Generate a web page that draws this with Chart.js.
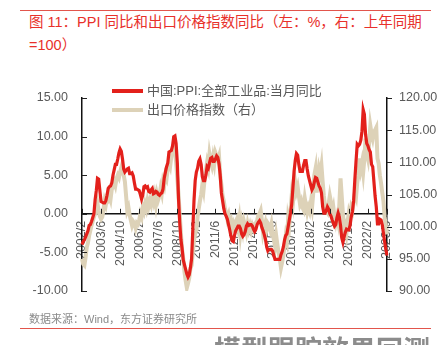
<!DOCTYPE html>
<html>
<head>
<meta charset="utf-8">
<title>PPI 同比和出口价格指数同比</title>
<script src="https://cdn.jsdelivr.net/npm/chart.js@4.4.1/dist/chart.umd.min.js"></script>
<style>
  html, body { margin: 0; padding: 0; background: #fff; }
  body {
    width: 439px; height: 345px; position: relative; overflow: hidden;
    font-family: "Liberation Sans", "Noto Sans CJK SC", sans-serif;
  }
  #chart { position: absolute; left: 0; top: 0; }
  .rule { position: absolute; left: 20px; width: 411px; height: 1px; background: #e2554c; }
  .title { position: absolute; left: 29px; top: 11px; color: #e8302a; font-size: 14.5px; line-height: 23px; white-space: nowrap; }
  .source { position: absolute; left: 29px; top: 312px; color: #8a8a8a; font-size: 11px; line-height: 14px; white-space: nowrap; }
  .next { position: absolute; left: 214px; top: 334px; color: #8c8c8c; font-size: 27px; font-weight: bold; line-height: 30px; white-space: nowrap; font-family: "Noto Sans CJK SC", sans-serif; }
</style>
</head>
<body>
<div class="rule" style="top:10px"></div>
<div class="title">图 11：PPI 同比和出口价格指数同比（左：%，右：上年同期<br>=100）</div>
<canvas id="chart" width="439" height="345"></canvas>
<div class="source">数据来源：Wind，东方证券研究所</div>
<div class="rule" style="top:328px"></div>
<div class="next">模型跟踪效果回测</div>

<script>
// monthly, 2002/2 .. 2023/6
const startYear = 2002;
const startMonth = 2;

// 中国:PPI:全部工业品:当月同比 (%)
const ppi = [
  -4.0, -3.6, -3.4, -3.0, -2.6, -2.2, -1.5, -1.4, -1.0, -0.5, 0.0,        // 2002
  1.8, 3.0, 4.6, 4.5, 3.0, 1.6, 1.5, 1.4, 1.4, 1.7, 2.4, 3.3,             // 2003
  3.5, 3.6, 4.0, 5.0, 5.7, 6.4, 6.4, 7.1, 7.9, 8.4, 8.1, 7.1,             // 2004
  5.8, 5.4, 5.6, 5.8, 5.9, 5.2, 5.2, 5.3, 4.9, 4.0, 3.2, 3.2,             // 2005
  3.1, 3.0, 2.5, 1.9, 2.4, 3.5, 3.6, 3.4, 3.5, 2.9, 2.8, 3.1,             // 2006
  3.3, 2.6, 2.7, 2.9, 2.8, 2.5, 2.4, 2.6, 2.7, 3.2, 4.6, 5.4,             // 2007
  6.1, 6.6, 8.0, 8.1, 8.2, 8.8, 10.0, 10.1, 9.1, 6.6, 2.0, -1.1,          // 2008
  -3.3, -4.5, -6.0, -6.6, -7.2, -7.8, -8.2, -7.9, -7.0, -5.8, -2.1, 1.7,  // 2009
  4.3, 5.4, 5.9, 6.8, 7.1, 6.4, 4.8, 4.3, 4.3, 5.0, 6.1, 5.9,             // 2010
  6.6, 7.2, 7.3, 6.8, 6.8, 7.1, 7.5, 7.3, 6.5, 5.0, 2.7, 1.7,             // 2011
  0.7, 0.0, -0.3, -0.7, -1.4, -2.1, -2.9, -3.5, -3.6, -2.8, -2.2, -1.9,   // 2012
  -1.6, -1.6, -1.9, -2.6, -2.9, -2.7, -2.3, -1.6, -1.3, -1.5, -1.4, -1.4, // 2013
  -1.6, -2.0, -2.3, -2.0, -1.4, -1.1, -0.9, -1.2, -1.8, -2.2, -2.7, -3.3, // 2014
  -4.3, -4.8, -4.6, -4.6, -4.6, -4.8, -5.4, -5.9, -5.9, -5.9, -5.9, -5.9, // 2015
  -5.3, -4.9, -4.3, -3.4, -2.8, -2.6, -1.7, -0.8, 0.1, 1.2, 3.3, 5.5,     // 2016
  6.9, 7.8, 7.6, 6.4, 5.5, 5.5, 5.5, 6.3, 6.9, 6.9, 5.8, 4.9,             // 2017
  4.3, 3.7, 3.1, 3.4, 4.1, 4.7, 4.6, 4.1, 3.6, 3.3, 2.7, 0.9,             // 2018
  0.1, 0.1, 0.4, 0.9, 0.6, 0.0, -0.3, -0.8, -1.2, -1.6, -1.4, -0.5,       // 2019
  0.1, -0.4, -1.5, -3.1, -3.7, -3.0, -2.4, -2.0, -2.1, -2.1, -1.5, -0.4,  // 2020
  0.3, 1.7, 4.4, 6.8, 9.0, 8.8, 9.0, 9.5, 10.7, 13.5, 12.9, 10.3,         // 2021
  9.1, 8.8, 8.3, 8.0, 6.4, 6.1, 4.2, 2.3, 0.9, -1.3, -1.3, -0.7,          // 2022
  -0.8, -1.4, -2.5, -3.6, -4.6, -5.4                                      // 2023
];

// 出口价格指数 (上年同期=100)
const exportIndex = [
  95.0, 94.2, 94.0, 95.2, 96.8, 97.5, 98.6, 99.4, 100.2, 100.8, 101.5,           // 2002
  102.0, 102.8, 103.6, 102.5, 101.6, 101.2, 101.5, 102.6, 104.0, 103.4, 104.5, 104.2, // 2003
  105.0, 104.3, 105.8, 106.2, 107.0, 106.4, 107.5, 108.0, 107.6, 108.5, 109.2, 108.4, // 2004
  108.0, 107.0, 104.8, 102.5, 103.0, 101.8, 101.0, 100.2, 100.8, 100.5, 99.8, 100.6,  // 2005
  100.4, 101.0, 102.0, 101.5, 103.0, 102.4, 103.5, 102.8, 104.0, 103.2, 104.0, 103.4, // 2006
  104.5, 103.8, 104.8, 103.5, 105.0, 104.2, 104.8, 106.0, 105.2, 107.0, 106.4, 108.0, // 2007
  107.5, 109.0, 110.0, 109.4, 111.0, 111.8, 112.5, 111.6, 110.0, 107.5, 105.0, 102.0, // 2008
  99.0, 96.5, 95.0, 93.0, 91.6, 90.5, 91.2, 92.0, 93.5, 94.0, 96.0, 97.8,             // 2009
  99.0, 99.4, 101.5, 102.8, 104.0, 105.0, 106.5, 105.6, 107.5, 108.8, 110.0, 109.2,   // 2010
  111.3, 110.2, 109.5, 110.8, 109.8, 111.5, 111.0, 110.4, 111.0, 108.0, 106.5, 104.8, // 2011
  104.0, 102.8, 102.2, 101.2, 101.8, 100.6, 101.0, 99.7, 100.4, 99.7, 100.8, 101.2,   // 2012
  100.0, 101.2, 99.0, 100.5, 99.4, 100.8, 100.1, 99.2, 100.4, 99.5, 100.2, 99.4,      // 2013
  100.2, 99.7, 100.4, 100.6, 101.0, 101.8, 102.0, 102.5, 101.0, 99.0, 99.8, 100.6,    // 2014
  99.6, 100.5, 100.2, 99.5, 100.4, 99.0, 98.0, 97.0, 98.6, 97.2, 96.0, 95.0,          // 2015
  93.6, 94.5, 95.5, 97.0, 98.6, 97.8, 101.2, 100.2, 102.5, 104.8, 103.6, 105.5,       // 2016
  106.8, 105.5, 106.2, 104.8, 103.5, 104.0, 103.0, 102.6, 104.4, 103.2, 102.2, 103.0, // 2017
  102.4, 103.7, 102.8, 105.0, 108.0, 109.0, 105.3, 107.0, 109.0, 108.2, 109.5, 107.0, // 2018
  104.8, 103.2, 102.5, 102.2, 103.5, 104.8, 103.8, 102.2, 103.0, 101.5, 100.6, 101.5, // 2019
  100.6, 103.5, 107.5, 104.8, 102.0, 99.7, 100.2, 99.0, 100.8, 102.2, 101.5, 103.0,   // 2020
  102.5, 103.8, 105.2, 104.6, 106.8, 108.0, 110.6, 109.0, 110.0, 108.4, 110.5, 113.7, // 2021
  111.5, 110.6, 113.0, 115.7, 114.5, 113.7, 114.8, 115.0, 115.4, 110.6, 109.8, 108.0, // 2022
  106.8, 105.3, 104.0, 101.5, 100.2, 98.8                                            // 2023
];

const seriesNames = ['中国:PPI:全部工业品:当月同比', '出口价格指数（右）'];
const tickEvery = 16; // 2002/2, 2003/6, 2004/10 ...

const months = [];
for (let y = startYear, m = startMonth; months.length < ppi.length; m++) {
  if (m > 12) { m = 1; y++; }
  months.push(y + '/' + m);
}

const RED = '#e3201b';
const BEIGE = '#ddd2b8';
const FONT = '"Liberation Sans", "Noto Sans CJK SC", sans-serif';

Chart.defaults.font.family = FONT;
Chart.defaults.font.size = 12.5;
Chart.defaults.color = '#595959';

// small tick marks: left/right axes point right, x axis points up
const axisTicks = {
  id: 'axisTicks',
  afterDraw(chart) {
    const { ctx, chartArea, scales } = chart;
    ctx.save();
    ctx.strokeStyle = '#222';
    ctx.lineWidth = 1;
    ctx.beginPath();
    scales.y.ticks.forEach(t => {
      const py = Math.round(scales.y.getPixelForValue(t.value)) + 0.5;
      ctx.moveTo(chartArea.left, py); ctx.lineTo(chartArea.left + 5, py);
    });
    scales.y1.ticks.forEach(t => {
      const py = Math.round(scales.y1.getPixelForValue(t.value)) + 0.5;
      ctx.moveTo(chartArea.right, py); ctx.lineTo(chartArea.right + 5, py);
    });
    const y0 = scales.y.getPixelForValue(0);
    months.forEach((_, i) => {
      if (i % tickEvery) return;
      const px = Math.round(scales.x.getPixelForValue(i)) + 0.5;
      ctx.moveTo(px, y0); ctx.lineTo(px, y0 - 5);
    });
    ctx.stroke();
    ctx.restore();
  }
};

// two-row legend above the plot
const stackedLegend = {
  id: 'stackedLegend',
  afterDraw(chart) {
    const { ctx, chartArea } = chart;
    ctx.save();
    ctx.font = '13px ' + FONT;
    ctx.textBaseline = 'middle';
    chart.data.datasets.forEach((ds, i) => {
      const x = chartArea.left + 30;
      const y = chartArea.top - 7 + i * 19;
      ctx.strokeStyle = ds.borderColor;
      ctx.lineWidth = 4;
      ctx.beginPath();
      ctx.moveTo(x, y); ctx.lineTo(x + 31, y);
      ctx.stroke();
      ctx.fillStyle = '#595959';
      ctx.fillText(ds.label, x + 35, y);
    });
    ctx.restore();
  }
};

new Chart(document.getElementById('chart'), {
  type: 'line',
  data: {
    labels: months,
    datasets: [
      {
        label: seriesNames[0],
        data: ppi,
        yAxisID: 'y',
        borderColor: RED,
        borderWidth: 3.2,
        pointRadius: 0,
        tension: 0,
      },
      {
        label: seriesNames[1],
        data: exportIndex,
        yAxisID: 'y1',
        borderColor: BEIGE,
        borderWidth: 4,
        pointRadius: 0,
        tension: 0,
      },
    ],
  },
  options: {
    responsive: false,
    animation: false,
    devicePixelRatio: 1,
    layout: { padding: { left: 20, right: 0, top: 98, bottom: 54 } },
    plugins: { legend: { display: false }, tooltip: { enabled: false } },
    scales: {
      x: {
        position: { y: 0 },
        offset: false,
        grid: { display: false, drawTicks: false },
        border: { display: true, color: '#111', width: 1.5 },
        ticks: {
          autoSkip: false,
          minRotation: 90,
          maxRotation: 90,
          padding: 7,
          callback(val, idx) {
            return idx % tickEvery === 0 ? this.getLabelForValue(val) : null;
          },
        },
      },
      y: {
        position: 'left',
        min: -10,
        max: 15,
        grid: { display: false, drawTicks: false },
        border: { display: true, color: '#111', width: 1.5 },
        ticks: { stepSize: 5, padding: 14, callback: v => v.toFixed(2) },
        afterFit(scale) { scale.width = 62; },
      },
      y1: {
        position: 'right',
        min: 90,
        max: 120,
        grid: { display: false, drawTicks: false },
        border: { display: true, color: '#111', width: 1.5 },
        ticks: { stepSize: 5, padding: 12, callback: v => v.toFixed(2) },
        afterFit(scale) { scale.width = 52; },
      },
    },
  },
  plugins: [axisTicks, stackedLegend],
});
</script>
</body>
</html>
